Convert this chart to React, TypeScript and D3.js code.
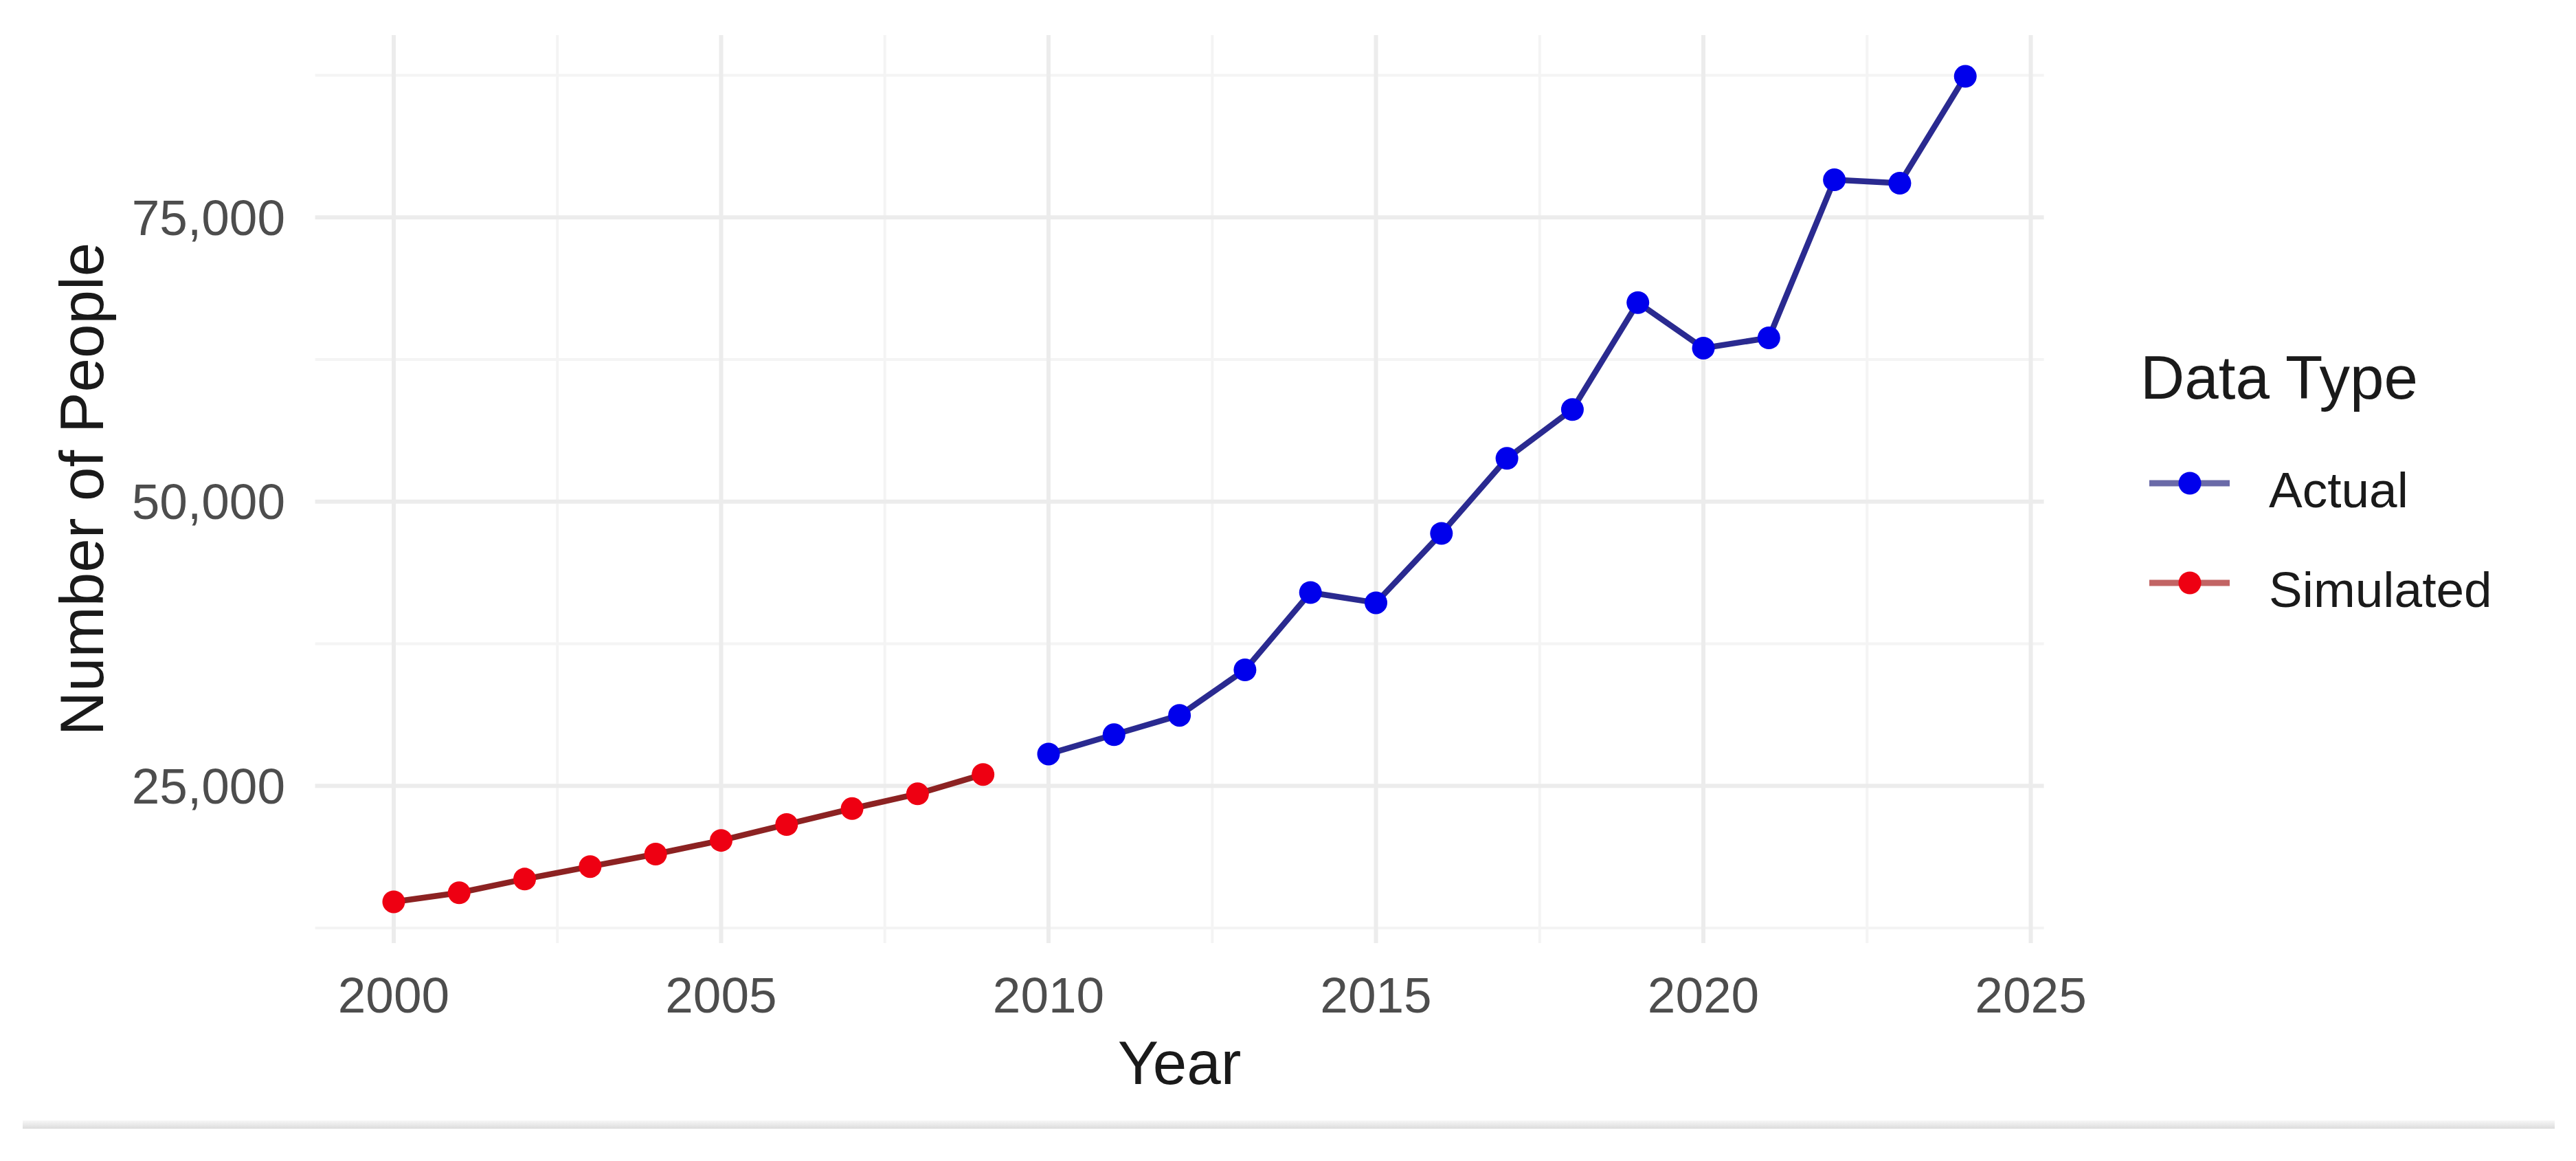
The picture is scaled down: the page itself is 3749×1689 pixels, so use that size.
import React from "react";
import * as d3 from "d3";

const simulatedYears = [2000, 2001, 2002, 2003, 2004, 2005, 2006, 2007, 2008, 2009];
const simulatedValues = [14800, 15600, 16800, 17900, 19000, 20200, 21600, 23000, 24300, 26000];

const actualYears = [2010, 2011, 2012, 2013, 2014, 2015, 2016, 2017, 2018, 2019, 2020, 2021, 2022, 2023, 2024];
const actualValues = [27800, 29500, 31200, 35200, 42000, 41100, 47200, 53800, 58100, 67500, 63500, 64400, 78300, 78000, 87400];

const xMajorTicks = [2000, 2005, 2010, 2015, 2020, 2025];
const xMinorTicks = [2002.5, 2007.5, 2012.5, 2017.5, 2022.5];
const yMajorTicks = [25000, 50000, 75000];
const yMinorTicks = [12500, 37500, 62500, 87500];

const legendLabels = ["Actual", "Simulated"];

const W = 3749;
const H = 1689;
const FONT = "'Liberation Sans', Arial, Helvetica, sans-serif";

export default function App() {
  const allYears = [...simulatedYears, ...actualYears];
  const allValues = [...simulatedValues, ...actualValues];
  const [x0, x1] = d3.extent(allYears) as [number, number];
  const [y0, y1] = d3.extent(allValues) as [number, number];
  const xr = x1 - x0;
  const yr = y1 - y0;

  const x = d3.scaleLinear().domain([x0 - 0.05 * xr, x1 + 0.05 * xr]).range([458.6, 2974.6]);
  const y = d3.scaleLinear().domain([y0 - 0.05 * yr, y1 + 0.05 * yr]).range([1372, 51]);

  const [px0, px1] = x.range();
  const [py0, py1] = y.range();

  const line = d3
    .line<[number, number]>()
    .x((d) => x(d[0]))
    .y((d) => y(d[1]));

  const simPts: [number, number][] = simulatedYears.map((yr2, i) => [yr2, simulatedValues[i]]);
  const actPts: [number, number][] = actualYears.map((yr2, i) => [yr2, actualValues[i]]);

  const fmt = d3.format(",");

  const series = [
    { name: legendLabels[0], pts: actPts, point: "#0000ec", line: "#2a2a90", keyLine: "#6a6aa8" },
    { name: legendLabels[1], pts: simPts, point: "#ee0012", line: "#8c2222", keyLine: "#c26464" },
  ];

  return (
    <svg
      width={W}
      height={H}
      viewBox={`0 0 ${W} ${H}`}
      style={{ position: "absolute", left: 0, top: 0, background: "#ffffff" }}
    >
      <defs>
        <linearGradient id="band" x1="0" y1="0" x2="0" y2="1">
          <stop offset="0" stopColor="#f7f7f7" />
          <stop offset="1" stopColor="#dcdcdc" />
        </linearGradient>
      </defs>
      <rect x={0} y={0} width={W} height={H} fill="#ffffff" />

      {/* minor grid */}
      {yMinorTicks.map((t) => (
        <line key={"ym" + t} x1={px0} x2={px1} y1={y(t)} y2={y(t)} stroke="#f4f4f4" strokeWidth={4} />
      ))}
      {xMinorTicks.map((t) => (
        <line key={"xm" + t} x1={x(t)} x2={x(t)} y1={py0} y2={py1} stroke="#f4f4f4" strokeWidth={4} />
      ))}
      {/* major grid */}
      {yMajorTicks.map((t) => (
        <line key={"yM" + t} x1={px0} x2={px1} y1={y(t)} y2={y(t)} stroke="#ececec" strokeWidth={6} />
      ))}
      {xMajorTicks.map((t) => (
        <line key={"xM" + t} x1={x(t)} x2={x(t)} y1={py0} y2={py1} stroke="#ececec" strokeWidth={6} />
      ))}

      {/* series */}
      {series.map((s) => (
        <g key={s.name}>
          <path d={line(s.pts) || ""} fill="none" stroke={s.line} strokeWidth={8.5} strokeLinejoin="round" />
          {s.pts.map((p, i) => (
            <circle key={i} cx={x(p[0])} cy={y(p[1])} r={16.5} fill={s.point} />
          ))}
        </g>
      ))}

      {/* y tick labels */}
      {yMajorTicks.map((t) => (
        <text
          key={"yl" + t}
          x={415}
          y={y(t)}
          dy="0.35em"
          textAnchor="end"
          fontFamily={FONT}
          fontSize={73}
          fill="#4d4d4d"
        >
          {fmt(t)}
        </text>
      ))}
      {/* x tick labels */}
      {xMajorTicks.map((t) => (
        <text
          key={"xl" + t}
          x={x(t)}
          y={1473}
          textAnchor="middle"
          fontFamily={FONT}
          fontSize={73}
          fill="#4d4d4d"
        >
          {t}
        </text>
      ))}

      {/* axis titles */}
      <text x={(px0 + px1) / 2} y={1577} textAnchor="middle" fontFamily={FONT} fontSize={89} fill="#1a1a1a">
        Year
      </text>
      <text
        transform={`translate(150, ${(py0 + py1) / 2}) rotate(-90)`}
        textAnchor="middle"
        fontFamily={FONT}
        fontSize={89}
        fill="#1a1a1a"
      >
        Number of People
      </text>

      {/* legend */}
      <text x={3115} y={580} fontFamily={FONT} fontSize={89} fill="#1a1a1a">
        Data Type
      </text>
      {series.map((s, i) => {
        const ky = 703 + i * 145;
        return (
          <g key={"lg" + s.name}>
            <line x1={3128} x2={3245} y1={ky} y2={ky} stroke={s.keyLine} strokeWidth={9} />
            <circle cx={3187} cy={ky} r={16.5} fill={s.point} />
            <text x={3302} y={ky + 35} fontFamily={FONT} fontSize={73} fill="#1a1a1a">
              {s.name}
            </text>
          </g>
        );
      })}

      {/* bottom band */}
      <rect x={33} y={1630} width={3685} height={12} fill="url(#band)" />
    </svg>
  );
}
